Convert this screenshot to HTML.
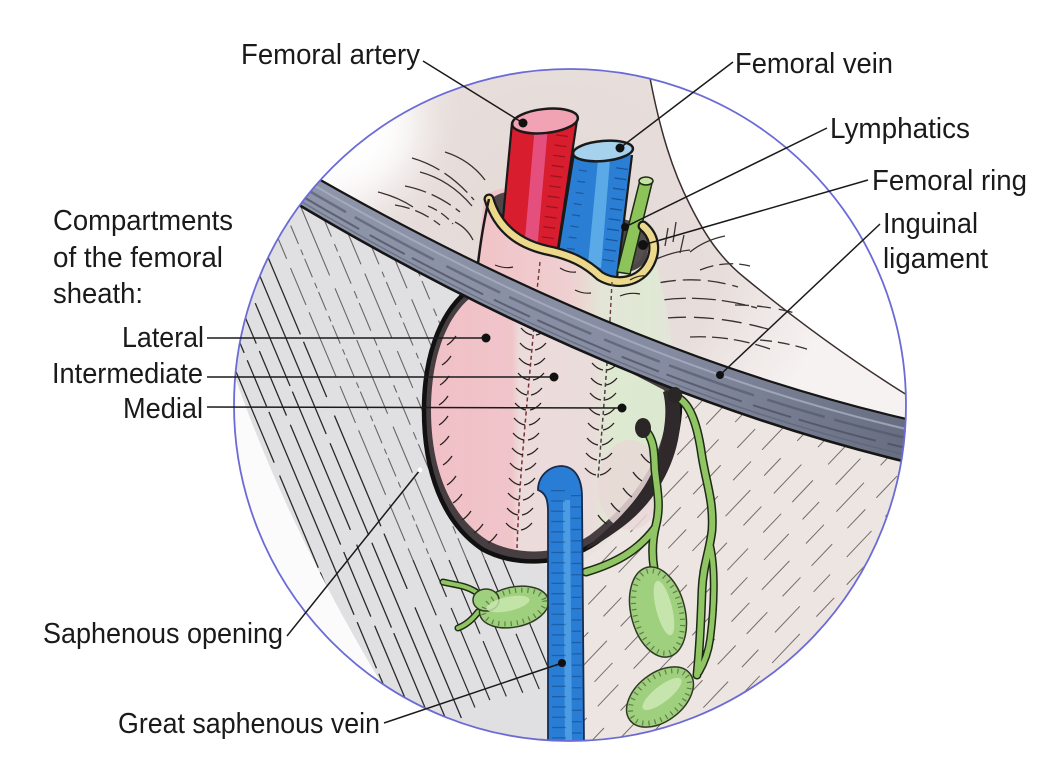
<!DOCTYPE html>
<html><head><meta charset="utf-8"><style>
html,body{margin:0;padding:0;background:#fff;width:1063px;height:781px;overflow:hidden;}
svg{display:block;}
text{font-family:"Liberation Sans Narrow","Liberation Sans",Arial,sans-serif;font-size:29px;fill:#1a1a1a;}
</style></head><body>
<svg width="1063" height="781" viewBox="0 0 1063 781" xmlns="http://www.w3.org/2000/svg">
<defs>
<clipPath id="circ"><circle cx="570" cy="405" r="336"/></clipPath>
<clipPath id="muscle"><path d="M200,150 L300,170 L480,282 C440,314 424,360 424,410 C424,470 442,522 482,549 C505,562 530,566 548,566 L548,760 L420,760 L420,745 Q300,560 236,380 L200,380 Z"/></clipPath>
<clipPath id="rlow"><path d="M666,385 L920,465 L920,760 L584,760 L584,560 C640,520 676,470 681,415 Z"/></clipPath>
<filter id="blur" x="-50%" y="-50%" width="200%" height="200%"><feGaussianBlur stdDeviation="22"/></filter>
<linearGradient id="sheathG" gradientUnits="userSpaceOnUse" x1="432" y1="0" x2="668" y2="0">
<stop offset="0" stop-color="#f1c0c7"/><stop offset="0.34" stop-color="#f0c5ca"/>
<stop offset="0.37" stop-color="#ecdbdb"/><stop offset="0.68" stop-color="#eadcdb"/>
<stop offset="0.75" stop-color="#dfe9d2"/><stop offset="1" stop-color="#dbe8cf"/></linearGradient>
<linearGradient id="neckG" gradientUnits="userSpaceOnUse" x1="478" y1="0" x2="680" y2="0">
<stop offset="0" stop-color="#f1c3c7"/><stop offset="0.45" stop-color="#efcfd0"/>
<stop offset="0.62" stop-color="#e3e6d6"/><stop offset="0.85" stop-color="#dfe9d4"/><stop offset="1" stop-color="#e6e2dc"/></linearGradient>
<linearGradient id="ligG" gradientUnits="userSpaceOnUse" x1="290" y1="0" x2="915" y2="0">
<stop offset="0" stop-color="#8f96aa"/><stop offset="0.6" stop-color="#858ba0"/><stop offset="1" stop-color="#676d80"/></linearGradient>
<radialGradient id="topG" gradientUnits="userSpaceOnUse" cx="560" cy="230" r="280">
<stop offset="0" stop-color="#e3d9d6"/><stop offset="0.6" stop-color="#e7dedb"/><stop offset="1" stop-color="#f6f2f1"/></radialGradient>
<path id="chev" d="M-13,-7 q5,6 11,7 M13,-7 q-5,6 -11,7" stroke="#2a2222" stroke-width="1.3" fill="none"/>
<path id="tick" d="M0,0 q5,-3 9,-9" stroke="#2a2222" stroke-width="1.3" fill="none"/>
<path id="tickR" d="M0,0 q-5,-3 -9,-9" stroke="#2a2222" stroke-width="1.3" fill="none"/>
</defs>

<g clip-path="url(#circ)">
  <rect x="200" y="60" width="730" height="700" fill="#e9e2df"/>
  <path d="M200,60 L650,60 L650,78 C660,130 672,170 690,205 C705,235 720,258 745,278 C790,315 850,360 915,400 L915,470 L200,170 Z" fill="url(#topG)"/>
  <ellipse cx="320" cy="130" rx="100" ry="75" fill="#fff" filter="url(#blur)"/>
  <path d="M648,60 L650,78 C660,130 672,170 690,205 C705,235 720,258 745,278 C790,315 850,360 915,400 L915,60 Z" fill="#fff"/>
  <path d="M650,78 C660,130 672,170 690,205 C705,235 720,258 745,278 C790,315 850,360 915,400" fill="none" stroke="#3a2e2e" stroke-width="1.5"/>
  <path d="M236,380 Q300,560 420,745 L200,760 L200,380 Z" fill="#fbfbfb"/>
  <path d="M200,150 L300,170 L480,282 C440,314 424,360 424,410 C424,470 442,522 482,549 C505,562 530,566 548,566 L548,760 L420,760 L420,745 Q300,560 236,380 L200,380 Z" fill="#e0dfe1"/>
  <path d="M666,385 L920,465 L920,760 L584,760 L584,560 C640,520 676,470 681,415 Z" fill="#ede5e1"/>

  <!-- muscle hatch -->
  <g clip-path="url(#muscle)" fill="none">
    <g stroke="#2a2a2a" stroke-width="1.3">
      <path d="M79,150 L335,760" stroke-dasharray="120 8 80 6"/>
      <path d="M95,150 L351,760" stroke-dasharray="200 10 60 5"/>
      <path d="M111,150 L367,760" stroke-dasharray="90 12 150 6"/>
      <path d="M127,150 L383,760" stroke-dasharray="160 6 70 10"/>
      <path d="M143,150 L399,760" stroke-dasharray="110 14 100 5"/>
      <path d="M159,150 L415,760" stroke-dasharray="220 8 50 6"/>
      <path d="M175,150 L431,760" stroke-dasharray="70 10 130 8"/>
      <path d="M191,150 L447,760" stroke-dasharray="150 16 90 6"/>
      <path d="M207,150 L463,760" stroke-dasharray="100 8 200 10"/>
      <path d="M223,150 L479,760" stroke-dasharray="60 20 120 8"/>
    </g>
    <g stroke="#6a6668" stroke-width="1.1">
      <path d="M241,150 L413,560" stroke-dasharray="40 8 70 10"/>
      <path d="M259,150 L431,560" stroke-dasharray="6 4 20 6"/>
      <path d="M277,150 L449,560" stroke-dasharray="50 6 80 14"/>
      <path d="M295,150 L467,560" stroke-dasharray="8 5 30 8"/>
      <path d="M313,150 L485,560" stroke-dasharray="70 14 40 10"/>
      <path d="M331,150 L503,560" stroke-dasharray="6 5 25 8"/>
      <path d="M349,150 L521,560" stroke-dasharray="30 12 70 8"/>
      <path d="M367,150 L539,560" stroke-dasharray="8 5 20 10"/>
    </g>
    <g stroke="#2e2e2e" stroke-width="1.2">
      <path d="M413,560 L497,760" stroke-dasharray="60 10 90"/>
      <path d="M431,560 L515,760" stroke-dasharray="40 12 100"/>
      <path d="M449,560 L533,760" stroke-dasharray="80 8 60"/>
      <path d="M467,560 L551,760" stroke-dasharray="50 14 80"/>
      <path d="M485,560 L569,760" stroke-dasharray="70 10 60"/>
      <path d="M503,560 L587,760" stroke-dasharray="40 12 90"/>
    </g>
  </g>

  <!-- right-lower hatch -->
  <g clip-path="url(#rlow)" fill="none" stroke="#756d6d" stroke-width="1">
    <path d="M520,424 L924,0" stroke-dasharray="26 18 40 24"/>
    <path d="M520,452 L950,0" stroke-dasharray="30 22 26 16" stroke-dashoffset="8"/>
    <path d="M520,480 L960,18" stroke-dasharray="36 20 24 24" stroke-dashoffset="15"/>
    <path d="M520,508 L960,46" stroke-dasharray="26 18 40 24" stroke-dashoffset="30"/>
    <path d="M520,536 L960,74" stroke-dasharray="30 22 26 16"/>
    <path d="M520,564 L960,102" stroke-dasharray="36 20 24 24" stroke-dashoffset="5"/>
    <path d="M520,592 L960,130" stroke-dasharray="26 18 40 24" stroke-dashoffset="20"/>
    <path d="M520,620 L960,158" stroke-dasharray="30 22 26 16" stroke-dashoffset="12"/>
    <path d="M520,648 L960,186" stroke-dasharray="36 20 24 24"/>
    <path d="M520,676 L960,214" stroke-dasharray="26 18 40 24" stroke-dashoffset="9"/>
    <path d="M520,704 L960,242" stroke-dasharray="30 22 26 16" stroke-dashoffset="25"/>
    <path d="M520,732 L960,270" stroke-dasharray="36 20 24 24" stroke-dashoffset="14"/>
    <path d="M520,760 L960,298" stroke-dasharray="26 18 40 24"/>
    <path d="M537,770 L960,326" stroke-dasharray="30 22 26 16" stroke-dashoffset="6"/>
    <path d="M564,770 L960,354" stroke-dasharray="36 20 24 24" stroke-dashoffset="22"/>
    <path d="M590,770 L960,382" stroke-dasharray="26 18 40 24" stroke-dashoffset="11"/>
    <path d="M617,770 L960,410" stroke-dasharray="30 22 26 16"/>
    <path d="M644,770 L960,438" stroke-dasharray="36 20 24 24" stroke-dashoffset="18"/>
    <path d="M670,770 L960,466" stroke-dasharray="26 18 40 24" stroke-dashoffset="4"/>
  </g>

  <!-- fibres above ligament -->
  <g fill="none" stroke="#3a3232" stroke-width="1.3">
    <path d="M412,158 q35,10 62,42" stroke-dasharray="30 6"/>
    <path d="M420,172 q30,8 52,34"/>
    <path d="M405,186 q30,6 55,26" stroke-dasharray="22 6"/>
    <path d="M378,192 q20,5 35,15"/>
    <path d="M428,206 q15,6 25,18" stroke-dasharray="10 5"/>
    <path d="M445,152 q25,8 40,28"/>
    <path d="M395,205 q25,4 45,20" stroke-dasharray="15 6"/>
    <path d="M455,222 q12,6 18,18"/>
  </g>
  <g fill="none" stroke="#3a3232" stroke-width="1.3">
    <path d="M658,283 q40,-8 80,4" stroke-dasharray="18 7"/>
    <path d="M662,300 q45,-6 95,8" stroke-dasharray="24 6"/>
    <path d="M666,318 q50,-4 105,12" stroke-dasharray="20 8"/>
    <path d="M690,337 q40,-2 80,12" stroke-dasharray="16 6"/>
    <path d="M700,270 q25,-10 50,-4" stroke-dasharray="14 6"/>
    <path d="M690,252 q15,-12 35,-16"/>
    <path d="M668,228 l-3,18 M676,222 l-3,20 M684,235 l-4,18" />
    <path d="M735,305 q30,0 60,8" stroke-dasharray="14 8"/>
    <path d="M760,340 q25,2 50,10" stroke-dasharray="12 6"/>
    <path d="M650,262 q20,-10 40,-12"/>
  </g>

  <!-- sheath neck back + opening -->
  <path d="M484,198 C495,185 520,186 540,190 L640,222 C650,228 655,240 652,250 C660,280 668,310 672,345 L470,320 L478,262 C480,235 482,215 484,198 Z" fill="url(#neckG)"/>
  <path d="M490,200 C500,190 520,188 545,195 L640,224 C650,232 650,250 645,262 C635,275 615,275 600,267 C585,255 570,248 545,245 C515,240 497,225 490,200 Z" fill="#4e4648"/>

  <!-- femoral artery -->
  <path d="M512,123 L500,250 L557,255 L577,120 Z" fill="#d81d2e"/>
  <path d="M535,125 L524,250 L537,251 L548,126 Z" fill="#e6588c" opacity="0.85"/>
  <path d="M562,135 L547,245" stroke="#6e0a16" stroke-width="12" stroke-dasharray="1.3 9" opacity="0.55"/>
  <path d="M512,123 L500,250 M577,120 L557,255" stroke="#1a1a1a" stroke-width="2.2" fill="none"/>
  <ellipse cx="545" cy="121" rx="33" ry="12" transform="rotate(-6 545 121)" fill="#f2a3b3" stroke="#1a1a1a" stroke-width="2.5"/>

  <!-- femoral vein -->
  <path d="M574,153 L557,258 L617,278 L632,155 Z" fill="#2a7ed4"/>
  <path d="M598,160 L588,264 L601,268 L610,160 Z" fill="#62b2ea" opacity="0.85"/>
  <path d="M622,168 L608,265" stroke="#0c3c78" stroke-width="12" stroke-dasharray="1.3 9" opacity="0.6"/>
  <path d="M583,170 L570,255" stroke="#0c3c78" stroke-width="8" stroke-dasharray="1.3 10" opacity="0.5"/>
  <path d="M574,153 L557,258 M632,155 L617,278" stroke="#1a1a1a" stroke-width="2.2" fill="none"/>
  <ellipse cx="603" cy="151" rx="30" ry="10" transform="rotate(-5 603 151)" fill="#a6d2ee" stroke="#1a1a1a" stroke-width="2.5"/>

  <!-- lymphatic and ring -->
  <ellipse cx="637" cy="247" rx="8" ry="18" transform="rotate(15 637 247)" fill="#55504e"/>
  <path d="M640,180 L652,183 L630,274 L617,272 Z" fill="#8cc45a" stroke="#1e2a14" stroke-width="1.5"/>
  <ellipse cx="646" cy="181" rx="7" ry="4" fill="#c4e4a4" stroke="#1e2a14" stroke-width="1.5"/>

  <!-- sheath front -->
  <path d="M470,320 L478,262 C480,235 484,215 489,199 C497,226 516,243 546,250 C571,255 586,263 600,276 C616,286 640,283 650,263 C657,249 654,235 643,226 C652,245 662,280 672,345 Z" fill="url(#neckG)"/>
  <path d="M489,199 C497,226 516,243 546,250 C571,255 586,263 600,276 C616,286 640,283 650,263 C657,249 654,235 643,226" fill="none" stroke="#1a1a1a" stroke-width="11" stroke-linecap="round"/>
  <path d="M489,199 C497,226 516,243 546,250 C571,255 586,263 600,276 C616,286 640,283 650,263 C657,249 654,235 643,226" fill="none" stroke="#ecd98c" stroke-width="6.5" stroke-linecap="round"/>
  <path d="M489,199 C484,220 480,245 477,272" fill="none" stroke="#1a1a1a" stroke-width="2.5"/>
  <path d="M540,262 L536,300 M612,282 L610,320" stroke="#6a3a3a" stroke-width="1.4" stroke-dasharray="4 3"/>
  <g fill="none" stroke="#2a2222" stroke-width="1.2">
    <path d="M495,265 q10,4 18,2 M500,282 q10,4 18,2 M560,268 q8,5 16,4 M575,290 q8,4 16,3 M620,296 q10,-4 20,-2 M630,280 q8,-5 16,-4"/>
  </g>

  <!-- saphenous opening ring -->
  <path d="M466,292 C438,316 424,360 424,410 C424,470 442,522 482,549 C514,567 562,566 597,542 C641,511 673,470 679,420 C681,405 680,395 676,386 L470,285 Z" fill="#463e41"/>
  <path d="M470,298 C444,320 431,362 431,410 C431,468 449,515 487,540 C518,557 560,555 590,535 C628,506 655,470 664,430 C667,410 667,398 664,390 L470,290 Z" fill="url(#sheathG)"/>
  <ellipse cx="630" cy="485" rx="32" ry="45" fill="#e9d8d7" opacity="0.85"/>
  <path d="M466,292 C438,316 424,360 424,410 C424,470 442,522 482,549 C514,567 562,566 597,542 C641,511 673,470 679,420 C681,405 680,395 676,386" fill="none" stroke="#111" stroke-width="4.5"/>
  <path d="M676,388 C690,430 670,490 625,525 C605,540 595,546 585,549 C600,535 640,505 655,465 C665,435 668,410 663,392 Z" fill="#2f292b"/>

  <!-- septa -->
  <path d="M536,300 C530,380 520,460 517,548" fill="none" stroke="#7a3038" stroke-width="1.5" stroke-dasharray="4 3"/>
  <path d="M610,320 C606,380 602,430 598,478" fill="none" stroke="#444" stroke-width="1.5" stroke-dasharray="4 3"/>
  <use href="#chev" x="534" y="335"/><use href="#chev" x="533" y="350"/><use href="#chev" x="532" y="365"/>
  <use href="#chev" x="531" y="380"/><use href="#chev" x="529" y="395"/><use href="#chev" x="528" y="410"/>
  <use href="#chev" x="527" y="425"/><use href="#chev" x="526" y="440"/><use href="#chev" x="525" y="455"/>
  <use href="#chev" x="523" y="470"/><use href="#chev" x="522" y="485"/><use href="#chev" x="521" y="500"/>
  <use href="#chev" x="520" y="515"/><use href="#chev" x="519" y="530"/>
  <use href="#chev" x="605" y="370"/><use href="#chev" x="604" y="385"/><use href="#chev" x="603" y="400"/>
  <use href="#chev" x="602" y="415"/><use href="#chev" x="601" y="430"/><use href="#chev" x="600" y="445"/>
  <use href="#chev" x="599" y="460"/><use href="#chev" x="598" y="475"/>
  <use href="#tick" x="447" y="345"/><use href="#tick" x="442" y="365"/><use href="#tick" x="440" y="385"/>
  <use href="#tick" x="439" y="405"/><use href="#tick" x="439" y="425"/><use href="#tick" x="440" y="445"/>
  <use href="#tick" x="443" y="465"/><use href="#tick" x="447" y="485"/><use href="#tick" x="453" y="503"/>
  <use href="#tick" x="462" y="520"/><use href="#tick" x="474" y="533"/><use href="#tick" x="488" y="543"/>
  <use href="#tickR" x="657" y="445"/><use href="#tickR" x="650" y="463"/><use href="#tickR" x="642" y="481"/>
  <use href="#tickR" x="632" y="497"/><use href="#tickR" x="620" y="512"/><use href="#tickR" x="607" y="524"/>
  <use href="#tickR" x="566" y="545"/><use href="#tickR" x="580" y="537"/>

  <!-- inguinal ligament -->
  <path d="M296,166 Q620,354 915,421 L915,464 Q610,392 284,196 Z" fill="url(#ligG)"/>
  <path d="M298,176 Q617,364 915,431" fill="none" stroke="#a9afc2" stroke-width="2" opacity="0.8"/>
  <path d="M294,182 Q614,372 915,440" fill="none" stroke="#4f5466" stroke-width="2.5" opacity="0.6" stroke-dasharray="60 10 90 14"/>
  <path d="M290,189 Q612,382 915,450" fill="none" stroke="#474c5c" stroke-width="2" opacity="0.7" stroke-dasharray="80 12 40 8"/>
  <path d="M287,193 Q611,388 915,457" fill="none" stroke="#5a6072" stroke-width="1.5" opacity="0.6"/>
  <path d="M296,166 Q620,354 915,421" fill="none" stroke="#161616" stroke-width="2.2"/>
  <path d="M284,196 Q610,392 915,464" fill="none" stroke="#161616" stroke-width="2.6"/>

  <!-- lymph node 3 (left) -->
  <path d="M476,592 C465,585 455,585 443,582" fill="none" stroke="#1e2a14" stroke-width="7" stroke-linecap="round"/>
  <path d="M476,592 C465,585 455,585 443,582" fill="none" stroke="#8fc563" stroke-width="4" stroke-linecap="round"/>
  <path d="M478,612 C472,620 466,625 458,628" fill="none" stroke="#1e2a14" stroke-width="7" stroke-linecap="round"/>
  <path d="M478,612 C472,620 466,625 458,628" fill="none" stroke="#8fc563" stroke-width="4" stroke-linecap="round"/>
  <ellipse cx="514" cy="607" rx="35" ry="20" transform="rotate(-12 514 607)" fill="#9fd07e" stroke="#2e3b22" stroke-width="1.5"/>
  <ellipse cx="486" cy="600" rx="13" ry="11" fill="#9fd07e" stroke="#2e3b22" stroke-width="1.5"/>
  <ellipse cx="508" cy="604" rx="22" ry="7" transform="rotate(-12 508 604)" fill="#cbe9b2" opacity="0.8"/>
  <ellipse cx="514" cy="607" rx="31" ry="16" transform="rotate(-12 514 607)" fill="none" stroke="#2e3b22" stroke-width="5" stroke-dasharray="1.2 5" opacity="0.55"/>

  <!-- lymph vessels -->
  <g fill="none" stroke-linecap="round">
    <path d="M645,430 C655,440 654,455 655,470 C657,490 661,505 656,525 C652,540 652,555 654,568" stroke="#1e2a14" stroke-width="9"/>
    <path d="M655,528 C640,548 620,562 586,572" stroke="#1e2a14" stroke-width="9"/>
    <path d="M676,397 C690,402 697,425 701,450 C705,480 714,500 712,530 C710,550 703,565 702,590 C701,620 700,645 697,675" stroke="#1e2a14" stroke-width="9"/>
    <path d="M710,545 C716,570 714,610 710,640 C708,655 703,665 699,672" stroke="#1e2a14" stroke-width="8"/>
    <path d="M645,430 C655,440 654,455 655,470 C657,490 661,505 656,525 C652,540 652,555 654,568" stroke="#8fc563" stroke-width="6"/>
    <path d="M655,528 C640,548 620,562 586,572" stroke="#8fc563" stroke-width="6"/>
    <path d="M676,397 C690,402 697,425 701,450 C705,480 714,500 712,530 C710,550 703,565 702,590 C701,620 700,645 697,675" stroke="#8fc563" stroke-width="6"/>
    <path d="M710,545 C716,570 714,610 710,640 C708,655 703,665 699,672" stroke="#8fc563" stroke-width="5"/>
  </g>
  <ellipse cx="643" cy="428" rx="8" ry="10" fill="#2a2626"/>
  <ellipse cx="675" cy="395" rx="7" ry="8" fill="#2a2626"/>

  <!-- lymph nodes 1 and 2 -->
  <ellipse cx="658" cy="612" rx="27" ry="46" transform="rotate(-14 658 612)" fill="#9fd07e" stroke="#2e3b22" stroke-width="1.5"/>
  <ellipse cx="664" cy="608" rx="8" ry="28" transform="rotate(-14 664 608)" fill="#d0eab8" opacity="0.8"/>
  <ellipse cx="658" cy="612" rx="23" ry="42" transform="rotate(-14 658 612)" fill="none" stroke="#2e3b22" stroke-width="5" stroke-dasharray="1.2 5" opacity="0.55"/>
  <ellipse cx="660" cy="697" rx="38" ry="24" transform="rotate(-38 660 697)" fill="#9fd07e" stroke="#2e3b22" stroke-width="1.5"/>
  <ellipse cx="662" cy="694" rx="24" ry="8" transform="rotate(-38 662 694)" fill="#d0eab8" opacity="0.8"/>
  <ellipse cx="660" cy="697" rx="34" ry="20" transform="rotate(-38 660 697)" fill="none" stroke="#2e3b22" stroke-width="5" stroke-dasharray="1.2 5" opacity="0.55"/>

  <!-- great saphenous vein -->
  <path d="M548,745 L548,512 C548,500 546,493 538,490 C538,476 549,466 562,466 C576,467 582,480 582,497 L584,745 Z" fill="#2a7dd4" stroke="#152c50" stroke-width="1.8"/>
  <path d="M563,500 L565,745 L572,745 L570,500 Z" fill="#5aaaea" opacity="0.7"/>
  <path d="M558,490 L559,742" stroke="#0f3f78" stroke-width="14" stroke-dasharray="1.3 9" opacity="0.45"/>
  <path d="M576,495 L577,742" stroke="#0f3f78" stroke-width="10" stroke-dasharray="1.3 10" opacity="0.45"/>
</g>

<circle cx="570" cy="405" r="336" fill="none" stroke="#6b6bd6" stroke-width="1.8"/>

<g stroke="#1a1a1a" stroke-width="1.5" fill="none">
  <path d="M423,61 L523,123"/>
  <path d="M733,62 L620,148"/>
  <path d="M827,128 L625,227"/>
  <path d="M868,180 L643,245"/>
  <path d="M880,224 L720,375"/>
  <path d="M207,338 L486,338"/>
  <path d="M207,377 L554,377"/>
  <path d="M207,407 L622,408"/>
  <path d="M287,636 L420,470"/>
  <path d="M384,723 L562,663"/>
</g>
<g fill="#111">
  <circle cx="523" cy="123" r="4.5"/>
  <circle cx="620" cy="148" r="4.5"/>
  <circle cx="625" cy="227" r="4"/>
  <circle cx="643" cy="245" r="5"/>
  <circle cx="720" cy="375" r="4"/>
  <circle cx="486" cy="338" r="4.5"/>
  <circle cx="554" cy="377" r="4.5"/>
  <circle cx="622" cy="408" r="4.5"/>
  <circle cx="562" cy="663" r="4"/>
</g>
<circle cx="420" cy="470" r="2.5" fill="#fff"/>

<text x="241" y="64" textLength="179" lengthAdjust="spacingAndGlyphs">Femoral artery</text>
<text x="735" y="73" textLength="158" lengthAdjust="spacingAndGlyphs">Femoral vein</text>
<text x="830" y="138" textLength="140" lengthAdjust="spacingAndGlyphs">Lymphatics</text>
<text x="872" y="190" textLength="155" lengthAdjust="spacingAndGlyphs">Femoral ring</text>
<text x="883" y="233" textLength="95" lengthAdjust="spacingAndGlyphs">Inguinal</text>
<text x="883" y="268" textLength="105" lengthAdjust="spacingAndGlyphs">ligament</text>
<text x="53" y="230" textLength="180" lengthAdjust="spacingAndGlyphs">Compartments</text>
<text x="53" y="267" textLength="170" lengthAdjust="spacingAndGlyphs">of the femoral</text>
<text x="53" y="303" textLength="90" lengthAdjust="spacingAndGlyphs">sheath:</text>
<text x="122" y="347" textLength="82" lengthAdjust="spacingAndGlyphs">Lateral</text>
<text x="52" y="383" textLength="151" lengthAdjust="spacingAndGlyphs">Intermediate</text>
<text x="123" y="418" textLength="80" lengthAdjust="spacingAndGlyphs">Medial</text>
<text x="43" y="643" textLength="240" lengthAdjust="spacingAndGlyphs">Saphenous opening</text>
<text x="118" y="733" textLength="262" lengthAdjust="spacingAndGlyphs">Great saphenous vein</text>
</svg>
</body></html>
